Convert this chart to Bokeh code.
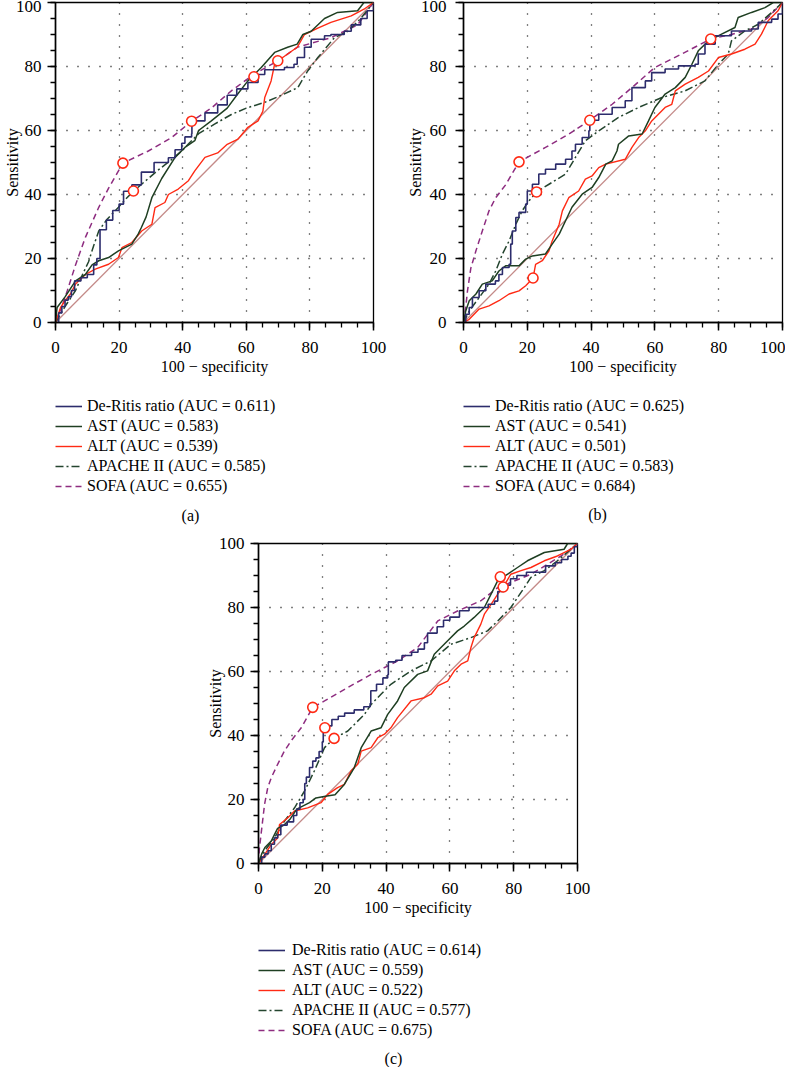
from bokeh.plotting import figure
from bokeh.models import Range1d, SingleIntervalTicker, Legend, LegendItem, Label, Spacer
from bokeh.layouts import column, row
from bokeh.embed import file_html
from bokeh.resources import INLINE

FONT = "Liberation Serif"

series_names = ["De-Ritis ratio", "AST", "ALT", "APACHE II", "SOFA"]
auc_a = ["0.611", "0.583", "0.539", "0.585", "0.655"]
auc_b = ["0.625", "0.541", "0.501", "0.583", "0.684"]
auc_c = ["0.614", "0.559", "0.522", "0.577", "0.675"]
diag = [0, 100]
offscreen = [-1]  # legend-proxy position, outside the visible range

# ---------------- panel (a) ----------------
a_deritis = [(0,0),(1,3),(2,5),(3,7),(4,8),(5,10),(6,13),(8,14),(10,15),(12,18),(13,20),(14,29),(16,32),(18,35),(20,37),(21.4,41),(24,43),(27,47),(31,50),(35.5,51.5),(37.6,54),(39.7,56),(40.7,58),(42.8,59),(42.9,63),(47,65.5),(51,68),(54,71),(57,73),(60.5,75),(63.7,77.5),(65.8,79),(72,79.7),(75,80.7),(76,82.8),(78.3,86),(80.4,88.5),(84.6,89.6),(86.6,90),(90.8,91),(93,93),(96,95),(98,97.4),(100,100)]
a_ast = [(0,0),(0.5,4.7),(3,8),(6.3,13),(9.4,15),(11.5,18),(13.6,19.3),(16.7,20.3),(19.8,22.4),(24,24.5),(26,27.6),(27,29.7),(28.5,33),(30.3,39),(33.4,45),(37.6,51.6),(40.7,54.7),(43.8,56.8),(45,60),(49,63),(54,67),(57,71),(60.5,75.5),(64.7,79.7),(68.9,84.4),(73,86),(76,87),(77.8,90),(80.4,91),(84.6,95),(88.7,96.9),(95,97.4),(97,100),(100,100)]
a_alt = [(0,0),(1.6,4.7),(3,6.8),(4.7,8.9),(6.3,12),(9.4,15),(12.5,16.7),(16.7,18.2),(19.8,20.3),(20.9,23.4),(24,25),(27.1,28.6),(30.3,30.7),(31.3,35.9),(34.4,37.5),(35.5,40),(38.6,41.7),(41.8,44.3),(43.8,47.4),(47,51.6),(51,53),(54,55.7),(57.4,57.3),(60.5,61),(63.7,63),(65.2,66),(65.8,70.3),(67.8,75.5),(68.9,80.7),(70,81.8),(73,83.9),(76,86),(78.3,90),(82.5,92),(86.6,93.8),(93,95.8),(97,97.9),(100,100)]
a_apache = [(0,0),(3,5),(6.3,10),(8.5,15),(10.4,19),(12,24),(13.6,28.6),(16,32),(19.8,36),(22,38.5),(24.5,41),(28,44),(32,47.4),(36,50.5),(39.7,53.6),(42,56),(45,59),(50,62),(55.3,65),(60,67),(65.8,68.8),(71,71),(76.2,73.4),(79.3,78.6),(82.5,82.8),(87.7,89),(91.9,91),(96,95),(100,100)]
a_sofa = [(0,0),(2,5),(3.7,9.9),(6.3,18),(9.4,26.6),(13.6,36),(16.7,42),(21.2,49.8),(29.2,53.6),(36.5,57.8),(42.8,62.9),(49,67),(55.3,72.4),(62.4,77.6),(70,81.8),(76,86),(86.6,89),(95,93),(100,100)]
a_cut = [(21.2,49.8),(24.5,41.1),(42.8,62.9),(62.4,76.8),(69.9,81.8)]

# ---------------- panel (b) ----------------
b_deritis = [(0,0),(0.7,2.6),(1.8,4.7),(2.8,7.8),(4.9,9.9),(7,12),(10,13),(11.1,15),(12.2,17.2),(14.3,18.2),(14.8,24.5),(15.3,28.6),(16.4,32.8),(17.4,34.4),(19.5,37),(20,41.1),(21.6,43.2),(23.6,46.4),(25.7,47.9),(28.9,49.5),(32,51),(34,53.6),(35.1,55.7),(37.2,57.8),(39.3,59.9),(39.6,63.2),(42.4,65.1),(46.6,67.2),(50.7,69.3),(52.8,73.4),(57,75.5),(59,78.1),(63.2,79.2),(67.4,80.2),(72.6,80.7),(73.6,83.9),(75.7,87),(78.9,89.6),(84,91.1),(90.3,91.7),(92.4,93.8),(96.6,94.8),(98.6,96.4),(100,100)]
b_ast = [(0,0),(0.7,3.6),(1.8,6.8),(3.9,8.9),(5.9,12),(9,13),(11.1,16.1),(13.2,17.7),(17.4,17.7),(19.5,19.8),(21.6,20.8),(25.7,21.4),(27.8,24.5),(30,27.6),(32,31.8),(34,36),(37.2,40.1),(40.3,42.2),(42.4,45.3),(44.6,49.5),(46.6,50.5),(48.1,53.6),(48.6,55.7),(51.8,58.3),(56,58.9),(58,63),(60,67.2),(63.2,71.4),(66.4,73.4),(69.5,76.6),(71.6,80.7),(73.6,84.9),(76.8,88),(80.9,90.1),(85.1,92.2),(86.1,95.3),(90.3,96.9),(94.5,98.4),(97.1,100),(100,100)]
b_alt = [(0,0),(1.8,1),(4.9,4.2),(8,5.2),(11.1,6.8),(14.3,8.9),(17.4,9.9),(19.5,11.5),(21.8,13.9),(22.6,18.2),(24.7,19.3),(26.8,22.4),(27.8,25.5),(30,30.7),(31,34.9),(33,39),(36.1,41.1),(38.2,44.8),(40.3,45.8),(42.4,48.4),(44.6,49.5),(50.7,51),(52.8,54.7),(54.9,57.8),(57,59.9),(59,63),(61.1,65.1),(63.2,67.2),(65.3,68.2),(66.4,72.4),(69.5,74.5),(73.6,76.6),(76.8,78.6),(79.9,82.8),(84,83.9),(88.2,85.4),(91.4,87),(93.4,90.1),(95.5,94.3),(98.6,97.4),(100,100)]
b_apache = [(0,0),(1.8,3.6),(4.9,7.8),(8,12),(10.1,16.1),(12.2,21.4),(14.3,25.5),(16.4,30.7),(18.4,34.9),(20.5,38),(22.9,40.8),(26.8,43.2),(32,46.4),(35.1,51.6),(38.2,56.8),(42.4,59.9),(48.6,64.1),(54.9,67.2),(62.2,70.3),(69.5,72.4),(75.7,75.5),(79.9,80.7),(83,83.9),(84,88),(88.2,91.1),(92.4,93.2),(96.6,96.9),(100,100)]
b_sofa = [(0,0),(0.7,4.7),(1.25,9.9),(2.3,17),(3.9,22.4),(5.9,28.6),(8,34.9),(10.1,39),(13.2,43),(17.4,50.2),(25.7,54.7),(33,58.9),(39.6,63.2),(46.6,68.2),(52.8,73.4),(60,79.7),(68.4,83.9),(77.5,88.6),(84,90),(90.3,91.7),(95.5,95.3),(100,100)]
b_cut = [(17.4,50.2),(22.9,40.8),(39.6,63.2),(21.8,13.9),(77.5,88.6)]

# ---------------- panel (c) ----------------
c_deritis = [(0,0),(1,2),(2,3),(3,4),(4,6),(5,8),(6,9),(7,12),(9,13),(11,15),(12,17),(13,19),(14,20),(14.5,25),(15,27),(16,30),(17,32),(18,33),(19,35),(20,38),(20.3,43),(22,43),(23,45),(25,46),(27,47),(30,48),(33,49),(35,50),(35.2,54),(37,56),(39,58),(40.5,59),(40.7,63),(43,63.5),(45,65),(48,66),(50,67),(52,69),(53,72),(56,74),(58,76),(60,77),(63,79),(66,80),(70,80),(72,81),(74,82),(75,85),(77,87),(79,89),(81,90),(84,91),(88,91),(90,93),(93,94),(95,95),(97,96),(98,97),(99,99),(100,100)]
c_ast = [(0,0),(1,3),(2,5),(4,7),(5,9),(6,11),(8,12),(10,14),(12,17),(14,18),(16,19),(18,20.5),(21,21),(24,21.5),(26.9,24.7),(30,29.9),(32.2,36.2),(35.3,41.4),(38.4,42.4),(40.5,46.6),(43.6,50.8),(45.7,55),(49.9,59.1),(53,60.2),(55.1,65.4),(59.3,69.6),(62.4,72.7),(64.5,74.2),(67.6,76.9),(70.8,80),(72.9,84.2),(75,88.4),(78.1,90.4),(81.2,92.5),(84.3,94.6),(89.6,97.2),(95.8,98.2),(96.9,100),(100,100)]
c_alt = [(0,0),(1.9,2.8),(4,5.9),(6,8),(6.6,12.2),(9.2,14.3),(11.3,16.4),(15.4,17.4),(19.6,19),(21.7,21.6),(24.8,23.7),(26.9,24.7),(29,28.9),(31.1,31),(32.2,35.1),(35.3,36.2),(37.4,39.3),(39.5,40.4),(41.5,42.4),(43.6,45.6),(47.8,50.8),(52,51.8),(54.1,52.9),(56.2,55.5),(59.3,57),(61.4,60.2),(63.5,62.3),(65.6,63.3),(66.6,67.5),(67.6,70.6),(69.7,74.8),(70.8,77.9),(72.9,81),(75,84.2),(76.7,86.4),(79.1,90.4),(82.3,91.5),(85.4,92.5),(89.6,94.6),(93.7,96.1),(97.9,98.2),(100,100)]
c_apache = [(0,0),(1.9,3.9),(5,8),(8.1,13.2),(11.3,17.4),(14.4,22.6),(17.5,28.9),(20.7,36.2),(23.7,39.1),(28,41.4),(33.2,46.6),(35.3,49.7),(38.4,52.9),(41.5,56),(47.8,60.2),(54.1,63.3),(60.3,68.5),(66.6,70.6),(71.8,72.7),(75,75.8),(79.1,80),(83.3,86.2),(85.4,89.4),(89.6,91.5),(93.7,94.6),(100,100)]
c_sofa = [(0,0),(0.3,4.9),(0.8,9.1),(1.9,18.5),(2.9,23.7),(4,26.8),(6,31),(8.1,35.1),(10.2,38.3),(13.4,42.4),(17,48.8),(20.7,50.8),(28,55),(35.3,59.1),(43.6,63.3),(49.9,67.5),(56.2,75.8),(62.4,78.9),(69.7,82.1),(75,86.2),(80.2,88.3),(85.4,90.4),(90.6,93.5),(95.8,96.7),(100,100)]
c_cut = [(17.0,48.8),(20.8,42.4),(23.7,39.1),(75.8,89.6),(76.7,86.4)]

COL_DERITIS = "#2c2c6c"
COL_AST = "#1f3f22"
COL_ALT = "#ff2a14"
COL_APACHE = "#24452f"
COL_SOFA = "#8e2d80"
COL_DIAG = "#c48a88"
COL_CUT = "#ff2a14"

STYLES = [
    dict(line_color=COL_DERITIS, line_width=1.6),
    dict(line_color=COL_AST, line_width=1.5),
    dict(line_color=COL_ALT, line_width=1.4),
    dict(line_color=COL_APACHE, line_width=1.5, line_dash="8 3 2 3"),
    dict(line_color=COL_SOFA, line_width=1.5, line_dash="6 4"),
]


def xs(pts):
    return [p[0] for p in pts]


def ys(pts):
    return [p[1] for p in pts]


def make_plot(curves, cuts, ml, mr, fw, fh, mt, mb, ylab_standoff, ylab_off):
    p = figure(width=ml + fw + mr, height=mt + fh + mb,
               x_range=Range1d(0, 100), y_range=Range1d(0, 100),
               output_backend="svg", toolbar_location=None,
               min_border_left=ml, min_border_right=mr,
               min_border_top=mt, min_border_bottom=mb,
               background_fill_color="white", border_fill_color="white")
    p.outline_line_color = "black"
    p.outline_line_width = 1.3
    for ax in (p.xaxis[0], p.yaxis[0]):
        ax.ticker = SingleIntervalTicker(interval=20, num_minor_ticks=4)
        ax.axis_line_width = 1.5
        ax.axis_line_color = "black"
        ax.major_tick_line_width = 1.5
        ax.minor_tick_line_width = 1.3
        ax.major_tick_in = 0
        ax.minor_tick_in = 0
        ax.major_tick_out = 8
        ax.minor_tick_out = 5
        ax.major_label_text_font = FONT
        ax.major_label_text_font_size = "17px"
        ax.major_label_text_color = "black"
        ax.axis_label_text_font = FONT
        ax.axis_label_text_font_size = "16px"
        ax.axis_label_text_font_style = "normal"
        ax.axis_label_text_color = "black"
    p.xaxis.axis_label = "100 \u2212 specificity"
    p.yaxis.axis_label = "Sensitivity"
    p.xaxis.major_label_standoff = 11
    p.yaxis.major_label_standoff = ylab_standoff
    p.xaxis.axis_label_standoff = 2
    p.yaxis.axis_label_standoff = ylab_off
    for g in (p.xgrid[0], p.ygrid[0]):
        g.grid_line_color = "black"
        g.grid_line_width = 1.3
        g.grid_line_dash = "1 10"

    p.line(diag, diag, line_color=COL_DIAG, line_width=1.3)
    d, a_, l_, ap, so = curves
    p.line(xs(so), ys(so), **STYLES[4])
    p.line(xs(ap), ys(ap), **STYLES[3])
    p.line(xs(l_), ys(l_), **STYLES[2])
    p.line(xs(a_), ys(a_), **STYLES[1])
    p.step(xs(d), ys(d), mode="after", **STYLES[0])
    p.scatter(xs(cuts), ys(cuts), marker="circle", size=10, fill_color="white",
              line_color=COL_CUT, line_width=1.6)
    return p


def make_legend(aucs, caption, width, height, lbottom, standoff, cx, cy):
    # frame of this figure is aligned (by the column layout) with the plot frame above
    q = figure(width=width, height=height,
               x_range=Range1d(0, 1), y_range=Range1d(0, 1),
               output_backend="svg", toolbar_location=None,
               min_border=0, x_axis_type=None, y_axis_type=None,
               background_fill_color="white", border_fill_color="white")
    q.outline_line_color = None
    q.xgrid.visible = False
    q.ygrid.visible = False
    items = []
    for n, v, st in zip(series_names, aucs, STYLES):
        r = q.line(offscreen, offscreen, **st)
        items.append(LegendItem(label=f"{n} (AUC = {v})", renderers=[r]))
    leg = Legend(items=items, location=(0, lbottom), orientation="vertical",
                 border_line_color=None, background_fill_alpha=0,
                 label_text_font=FONT, label_text_font_size="16px",
                 label_text_color="black",
                 label_height=16, glyph_height=16, glyph_width=27,
                 spacing=2, padding=0, margin=0, label_standoff=standoff)
    q.add_layout(leg, "center")
    q.add_layout(Label(x=cx, y=cy, x_units="screen", y_units="screen", text=caption,
                       text_align="center", text_baseline="middle",
                       text_font=FONT, text_font_size="16px", text_color="black"))
    return q


pa = make_plot([a_deritis, a_ast, a_alt, a_apache, a_sofa], a_cut,
               ml=54, mr=30, fw=319, fh=320, mt=2, mb=64, ylab_standoff=6, ylab_off=-8)
pb = make_plot([b_deritis, b_ast, b_alt, b_apache, b_sofa], b_cut,
               ml=59, mr=3, fw=320, fh=320, mt=2, mb=64, ylab_standoff=9, ylab_off=-6)
pc = make_plot([c_deritis, c_ast, c_alt, c_apache, c_sofa], c_cut,
               ml=54, mr=30, fw=320, fh=320, mt=6, mb=64, ylab_standoff=6, ylab_off=-8)

la = make_legend(auc_a, "(a)", 403, 151, 42, 5, 135, 22)
lb = make_legend(auc_b, "(b)", 382, 151, 42, 5, 134, 23)
lc = make_legend(auc_c, "(c)", 404, 141, 29, 7, 135, 10)

layout = column(row(column(pa, la), column(pb, lb)),
                row(Spacer(width=203), column(pc, lc)))
open("out.html", "w").write(file_html(layout, INLINE))
